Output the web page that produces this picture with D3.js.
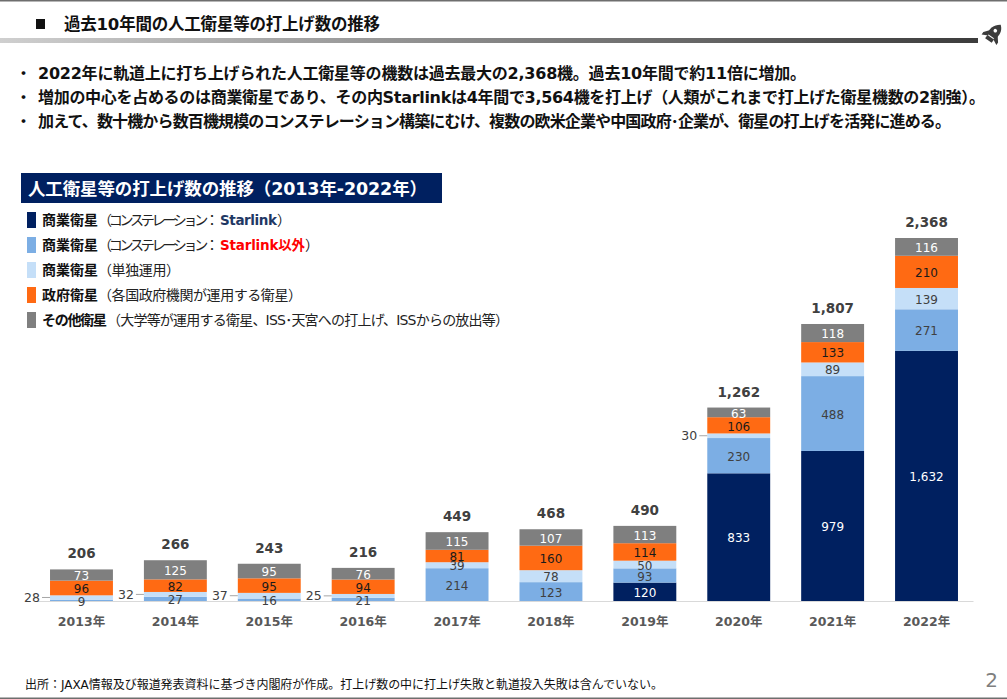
<!DOCTYPE html>
<html lang="ja">
<head>
<meta charset="utf-8">
<script src="https://cdn.jsdelivr.net/npm/d3@7"></script>
<style>
    html, body { margin: 0; padding: 0; background: #fff; }
    svg { display: block; }
    text { font-family: "DejaVu Sans", "Noto Sans CJK JP", sans-serif; }
</style>
</head>
<body>
<div id="chart"></div>
<script>
    // Chart data
    const years = ["2013年", "2014年", "2015年", "2016年", "2017年", "2018年", "2019年", "2020年", "2021年", "2022年"];
    const starlink = [0, 0, 0, 0, 0, 0, 120, 833, 979, 1632];
    const otherConstellation = [9, 27, 16, 21, 214, 123, 93, 230, 488, 271];
    const singleOperation = [28, 32, 37, 25, 39, 78, 50, 30, 89, 139];
    const government = [96, 82, 95, 94, 81, 160, 114, 106, 133, 210];
    const others = [73, 125, 95, 76, 115, 107, 113, 63, 118, 116];
    const totals = [206, 266, 243, 216, 449, 468, 490, 1262, 1807, 2368];

    const seriesKeys = ["starlink", "otherConstellation", "singleOperation", "government", "others"];
    const seriesValues = { starlink, otherConstellation, singleOperation, government, others };
    const seriesColors = ["#002060", "#7CAEE4", "#C5DFF8", "#FF6A13", "#7F7F7F"];
    const labelColors = ["#ffffff", "#404040", "#404040", "#1a1a1a", "#ffffff"];

    // Years whose "single operation" label sits outside the bar with a leader line
    const leaderYears = ["2013年", "2014年", "2015年", "2016年", "2020年"];

    const bullets = [
        "2022年に軌道上に打ち上げられた人工衛星等の機数は過去最大の2,368機。過去10年間で約11倍に増加。",
        "増加の中心を占めるのは商業衛星であり、その内Starlinkは4年間で3,564機を打上げ（人類がこれまで打上げた衛星機数の2割強）。",
        "加えて、数十機から数百機規模のコンステレーション構築にむけ、複数の欧米企業や中国政府･企業が、衛星の打上げを活発に進める。"
    ];

    const legendNames = ["商業衛星", "商業衛星", "商業衛星", "政府衛星", "その他衛星"];
    const legendNotes = [
        "（コンステレーション：",
        "（コンステレーション：",
        "（単独運用）",
        "（各国政府機関が運用する衛星）",
        "（大学等が運用する衛星、ISS･天宮への打上げ、ISSからの放出等）"
    ];
    const legendAccents = ["Starlink", "Starlink以外", "", "", ""];

    // Text widths on the slide: its font sets kana narrower than the CJK fallback here
    const bulletWidths = [768, 947, 913];
    const legendNameWidths = [56, 56, 56, 56, 65];
    const legendNoteWidths = [121, 121, 82, 204, 402];
    const legendAccentWidths = [57, 85, 0, 0, 0];
    const accentColors = ["#1F3864", "#FF0000", "#000", "#000", "#000"];

    const width = 1007, height = 699;

    const svg = d3.select("#chart").append("svg")
        .attr("width", width)
        .attr("height", height);

    // Slide frame
    const defs = svg.append("defs");
    const grad = defs.append("linearGradient").attr("id", "rule-gradient");
    grad.append("stop").attr("offset", "0%").attr("stop-color", "#cfcfcf");
    grad.append("stop").attr("offset", "100%").attr("stop-color", "#3c3c3c");

    svg.append("rect").attr("width", width).attr("height", 1.5).attr("fill", "#6e6e6e");
    svg.append("rect").attr("y", height - 1.5).attr("width", width).attr("height", 1.5).attr("fill", "#6e6e6e");
    svg.append("rect").attr("x", 0).attr("y", 38).attr("width", 978).attr("height", 5).attr("fill", "url(#rule-gradient)");

    // Rocket mark in the corner
    const rocket = svg.append("g").attr("transform", "translate(993,34) rotate(35)").attr("fill", "#3c3c3c");
    rocket.append("path").attr("d", "M1,-12 C6,-8 6,-3 5,3 L-5,3 C-6,-3 -5,-8 1,-12 Z");
    rocket.append("path").attr("d", "M-5,-1 L-9,4 L-9,7 L-3,4 Z M5,-1 L9,4 L9,7 L3,4 Z");
    rocket.append("rect").attr("x", -4).attr("y", 4).attr("width", 8).attr("height", 4);
    rocket.append("circle").attr("cx", 0).attr("cy", -4).attr("r", 1.8).attr("fill", "#fff");

    // Slide title
    svg.append("rect").attr("x", 36).attr("y", 19).attr("width", 9).attr("height", 10).attr("fill", "#111");
    svg.append("text")
        .attr("x", 64).attr("y", 30)
        .attr("font-size", 16.5).attr("font-weight", 700).attr("fill", "#111")
        .attr("textLength", 316)
        .text("過去10年間の人工衛星等の打上げ数の推移");

    // Bullet lines
    svg.append("g").selectAll("g")
        .data(bullets)
        .enter()
        .append("g")
        .attr("transform", (d, i) => `translate(0, ${79 + i * 24})`)
        .each(function (d, i) {
            const line = d3.select(this);
            line.append("text").attr("x", 16).attr("font-size", 15).attr("font-weight", 700).attr("fill", "#111").text("・");
            line.append("text")
                .attr("x", 38)
                .attr("font-size", 16).attr("font-weight", 700).attr("fill", "#111")
                .attr("textLength", bulletWidths[i])
                .text(d);
        });

    // Chart heading band
    svg.append("rect").attr("x", 21).attr("y", 173).attr("width", 421).attr("height", 30).attr("fill", "#002060");
    svg.append("text")
        .attr("x", 28).attr("y", 195)
        .attr("font-size", 17.5).attr("font-weight", 700).attr("fill", "#fff")
        .attr("textLength", 399)
        .text("人工衛星等の打上げ数の推移（2013年-2022年）");

    // Legend: name, note and accent are placed one after another
    const legend = svg.append("g").selectAll("g")
        .data(legendNames)
        .enter()
        .append("g")
        .attr("transform", (d, i) => `translate(27, ${212 + i * 25})`);

    legend.append("rect")
        .attr("width", 9).attr("height", 16)
        .attr("fill", (d, i) => seriesColors[i]);

    legend.each(function (name, i) {
        const row = d3.select(this);
        const noteX = 15 + legendNameWidths[i];
        const accentX = noteX + legendNoteWidths[i] + 1;

        row.append("text")
            .attr("x", 15).attr("y", 13)
            .attr("font-size", 14).attr("font-weight", 700).attr("fill", "#111")
            .attr("textLength", legendNameWidths[i])
            .text(name);

        row.append("text")
            .attr("x", noteX).attr("y", 13)
            .attr("font-size", 14).attr("fill", "#222")
            .attr("textLength", legendNoteWidths[i])
            .text(legendNotes[i]);

        if (legendAccents[i]) {
            row.append("text")
                .attr("x", accentX).attr("y", 13)
                .attr("font-size", 13.5).attr("font-weight", 700).attr("fill", accentColors[i])
                .attr("textLength", legendAccentWidths[i])
                .text(legendAccents[i]);

            row.append("text")
                .attr("x", accentX + legendAccentWidths[i]).attr("y", 13)
                .attr("font-size", 14).attr("fill", "#222")
                .text("）");
        }
    });

    // Scales
    const x = d3.scaleBand()
        .domain(years)
        .range([35, 973])
        .paddingInner(0.33)
        .paddingOuter(0.16);

    const y = d3.scaleLinear()
        .domain([0, 2368])
        .range([601, 238]);

    const table = years.map((year, i) => {
        const row = { year };
        seriesKeys.forEach(k => { row[k] = seriesValues[k][i]; });
        return row;
    });

    const stacked = d3.stack().keys(seriesKeys)(table);

    // Stacked bars
    const layers = svg.append("g").selectAll("g")
        .data(stacked)
        .enter()
        .append("g")
        .attr("fill", (d, i) => seriesColors[i]);

    layers.selectAll("rect")
        .data(d => d)
        .enter()
        .append("rect")
        .attr("x", d => x(d.data.year))
        .attr("y", d => y(d[1]))
        .attr("width", x.bandwidth())
        .attr("height", d => y(d[0]) - y(d[1]));

    // Axis along the bottom
    const xAxis = d3.axisBottom(x).tickSizeOuter(0).tickSize(0).tickPadding(16);
    const axisGroup = svg.append("g")
        .attr("transform", `translate(0, ${y(0)})`)
        .call(xAxis);
    axisGroup.select(".domain").attr("stroke", "#d9d9d9");
    axisGroup.selectAll("text")
        .attr("font-size", 12.5)
        .attr("font-weight", 700)
        .attr("fill", "#595959")
        .style("font-family", '"DejaVu Sans", "Noto Sans CJK JP", sans-serif');

    // Segment labels
    const segmentLabels = svg.append("g").attr("text-anchor", "middle").attr("font-size", 12);

    stacked.forEach((layer, s) => {
        layer.forEach(d => {
            const value = d[1] - d[0];
            if (value === 0) return;
            const mid = y((d[0] + d[1]) / 2);
            const outside = seriesKeys[s] === "singleOperation" && leaderYears.includes(d.data.year);

            if (outside) {
                const left = x(d.data.year);
                svg.append("line")
                    .attr("x1", left - 8).attr("x2", left)
                    .attr("y1", mid).attr("y2", mid)
                    .attr("stroke", "#a6a6a6");
                svg.append("text")
                    .attr("x", left - 10).attr("y", mid)
                    .attr("dy", "0.35em")
                    .attr("text-anchor", "end")
                    .attr("font-size", 12.5)
                    .attr("fill", "#404040")
                    .text(value);
            } else {
                segmentLabels.append("text")
                    .attr("x", x(d.data.year) + x.bandwidth() / 2)
                    .attr("y", mid + 1)
                    .attr("dy", "0.35em")
                    .attr("fill", labelColors[s])
                    .text(d3.format(",")(value));
            }
        });
    });

    // Totals above each bar
    svg.append("g").selectAll("text")
        .data(table)
        .enter()
        .append("text")
        .attr("x", d => x(d.year) + x.bandwidth() / 2)
        .attr("y", (d, i) => y(totals[i]) - 11)
        .attr("text-anchor", "middle")
        .attr("font-size", 13.5)
        .attr("font-weight", 700)
        .attr("fill", "#404040")
        .text((d, i) => d3.format(",")(totals[i]));

    // Source note and page number
    svg.append("text")
        .attr("x", 25).attr("y", 689)
        .attr("font-size", 12).attr("fill", "#111")
        .attr("textLength", 638)
        .text("出所：JAXA情報及び報道発表資料に基づき内閣府が作成。打上げ数の中に打上げ失敗と軌道投入失敗は含んでいない。");

    svg.append("text")
        .attr("x", 998).attr("y", 687)
        .attr("text-anchor", "end")
        .attr("font-size", 20).attr("fill", "#7f7f7f")
        .text("2");
</script>
</body>
</html>
